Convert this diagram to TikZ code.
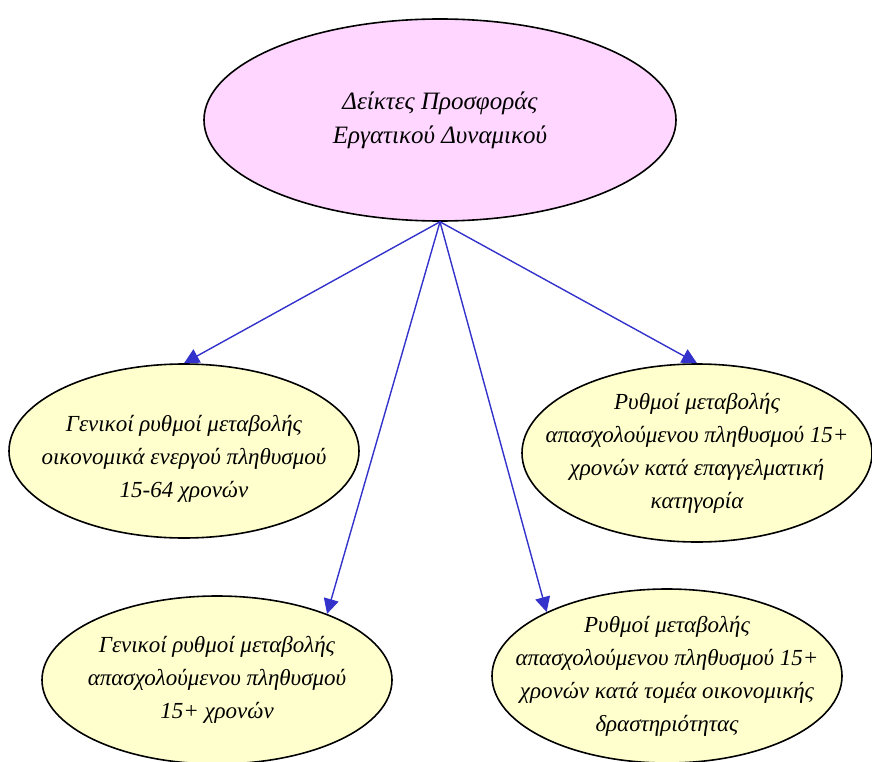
\documentclass[tikz,border=0pt]{standalone}
\usepackage{fontspec}
\setmainfont{Liberation Serif}
\usepackage{tikz}
\usetikzlibrary{shapes.geometric, arrows.meta, positioning}
\definecolor{mypink}{RGB}{255,214,255}
\definecolor{myyellow}{RGB}{255,255,206}
\definecolor{myblue}{RGB}{51,51,204}
\tikzset{
  topbubble/.style={ellipse, draw=black, fill=mypink, line width=1.6pt,
    minimum width=472pt, minimum height=202pt, inner sep=0pt},
  bubble/.style={ellipse, draw=black, fill=myyellow, line width=1.6pt,
    minimum width=350pt, minimum height=174pt, inner sep=0pt},
  toptext/.style={align=center, inner sep=0pt, font=\fontsize{25}{34}\selectfont\itshape},
  bubbletext/.style={align=center, inner sep=0pt, font=\fontsize{23}{33}\selectfont\itshape},
  arrow/.style={-{Triangle[length=15pt,width=15pt]}, line width=1.4pt, color=myblue}
}
\begin{document}
\begin{tikzpicture}[x=1pt, y=-1pt]
  \useasboundingbox (0,0) rectangle (872,762);
  \node[topbubble] (top) at (440,120) {};
  \node[toptext] (toplbl) at (top) {Δείκτες Προσφοράς\\Εργατικού Δυναμικού};

  \node[bubble] (gen) at (184,451) {};
  \node[bubbletext] (genlbl) at ([yshift=-8pt]gen) {Γενικοί ρυθμοί μεταβολής\\οικονομικά ενεργού πληθυσμού\\15-64 χρονών};
  \node[bubble, minimum height=178pt] (occ) at (697,453) {};
  \node[bubbletext] (occlbl) at (occ) {Ρυθμοί μεταβολής\\απασχολούμενου πληθυσμού 15+\\χρονών κατά επαγγελματική\\κατηγορία};
  \node[bubble, minimum height=168pt] (emp) at (217,680) {};
  \node[bubbletext] (emplbl) at (emp) {Γενικοί ρυθμοί μεταβολής\\απασχολούμενου πληθυσμού\\15+ χρονών};
  \node[bubble] (sec) at (667,676) {};
  \node[bubbletext] (seclbl) at (sec) {Ρυθμοί μεταβολής\\απασχολούμενου πληθυσμού 15+\\χρονών κατά τομέα οικονομικής\\δραστηριότητας};

  % Paths
  \draw[arrow] (top.south) -- (gen.north);
  \draw[arrow] (top.south) -- (emp.31);
  \draw[arrow] (top.south) -- (sec.152);
  \draw[arrow] (top.south) -- (occ.north);
\end{tikzpicture}
\end{document}
